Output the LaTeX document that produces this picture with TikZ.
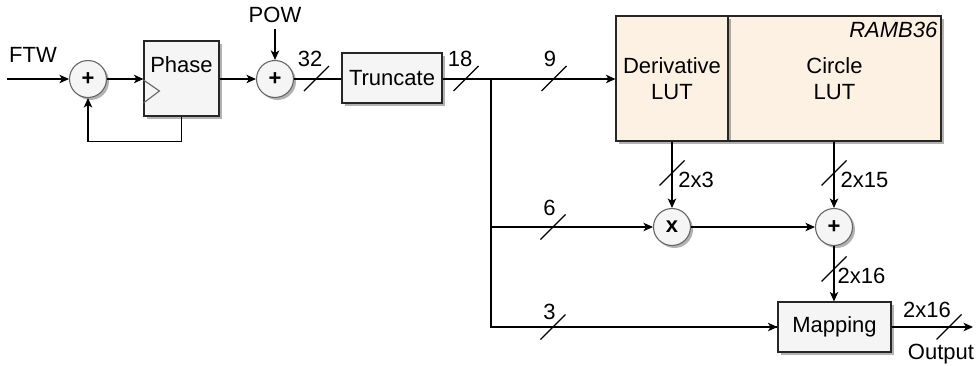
\documentclass[tikz,border=0pt]{standalone}
\usepackage{fontspec}
\setmainfont{Liberation Sans}
\usetikzlibrary{arrows.meta,shadows,positioning}
\definecolor{boxfill}{HTML}{F5F5F5}
\definecolor{circstroke}{HTML}{666666}
\definecolor{lutfill}{HTML}{FDF1E4}
\begin{document}
\begin{tikzpicture}[x=1pt,y=-1pt,
  font=\fontsize{22}{26}\selectfont,
  line width=1.3pt,
  arr/.style={-{Stealth[length=9.5pt,width=8.5pt,inset=2.5pt]}},
  shade/.style={drop shadow={shadow xshift=2.5pt,shadow yshift=-2.5pt,fill=black,opacity=0.3}},
  blockbox/.style={draw=black!85,fill=boxfill,line width=1.1pt,shade,inner sep=0pt,align=center},
  lutbox/.style={draw=black!85,fill=lutfill,line width=1.1pt,shade,inner sep=0pt,align=center},
  opcircle/.style={circle,draw=circstroke,fill=boxfill,line width=1.1pt,shade,minimum size=37pt,inner sep=0pt,font=\fontsize{22}{26}\selectfont\bfseries},
  lbl/.style={inner sep=0pt}
]
\useasboundingbox (0,0) rectangle (977,365);

% ---- blocks ----
\node[opcircle] (add1) at (88,79) {+};
\node[blockbox,minimum width=75pt,minimum height=75pt] (phase) at (181.5,78.5) {};
\node[lbl] at (181.5,65) {Phase};
\draw[circstroke,line width=1.1pt] ([yshift=-1.5pt]phase.west) -- ++(16,11) -- ++(-16,12);
\node[opcircle] (add2) at (275,79) {+};
\node[blockbox,minimum width=100pt,minimum height=50pt] (trunc) at (392,78) {Truncate};

\node[lutbox,minimum width=213pt,minimum height=125pt] (circ) at (834.5,78.5) {Circle\\LUT};
\node[lutbox,minimum width=112pt,minimum height=125pt] (deriv) at (672,78.5) {Derivative\\LUT};
\node[lbl,anchor=east,font=\fontsize{22}{26}\selectfont\itshape] (ram) at (938,29.5) {RAMB36};

\node[opcircle] (mult) at (672,227) {x};
\node[opcircle] (add3) at (834,227) {+};
\node[blockbox,minimum width=113pt,minimum height=50pt] (map) at (834.5,327) {Mapping};

% ---- free ends ----
\coordinate (ftw) at (7,79);
\coordinate (pow) at (275,29);
\coordinate (j1) at (491,79);
\coordinate (out) at (973,327);

% ---- connectors ----
\draw[arr] (ftw) -- (add1.west);
\draw[arr] (add1.east) -- (phase.west |- add1);
\draw[arr] (phase.south) -- ++(0,25) -| (add1.south);
\draw[arr] (phase.east |- add2) -- (add2.west);
\draw[arr] (pow) -- (add2.north);
\draw (add2.east) -- (trunc.west |- add2);
\draw[arr] (trunc.east |- j1) -- (deriv.west |- j1);
\draw (j1) |- (map.west);
\draw[arr] (j1 |- mult) -- (mult.west);
\draw[arr] (j1 |- map) -- (map.west);
\draw[arr] (deriv.south -| mult) -- (mult.north);
\draw[arr] (circ.south -| add3) -- (add3.north);
\draw[arr] (mult.east) -- (add3.west);
\draw[arr] (add3.south) -- (map.north -| add3);
\draw[arr] (map.east) -- (out);

% ---- bus-width marks ----
\foreach \p in {(316.5,78.5),(466,78.5),(554,78.5),(553,227),(553,327),(672,173),(834,173),(834,269),(949,327)}
  \draw[line width=1.1pt] \p ++(-12.5,12.5) -- ++(25,-25);

% ---- labels ----
\node[lbl] at (33,55) {FTW};
\node[lbl] at (275,15) {POW};
\node[lbl] at (310,58.5) {32};
\node[lbl] at (460,58.5) {18};
\node[lbl] at (550,58.5) {9};
\node[lbl] at (549.5,207.5) {6};
\node[lbl] at (549.5,311.5) {3};
\node[lbl] at (696,180) {2x3};
\node[lbl] at (864.5,180) {2x15};
\node[lbl] at (861.5,275.5) {2x16};
\node[lbl] at (927,310) {2x16};
\node[lbl] at (941,354) {Output};
\end{tikzpicture}
\end{document}
